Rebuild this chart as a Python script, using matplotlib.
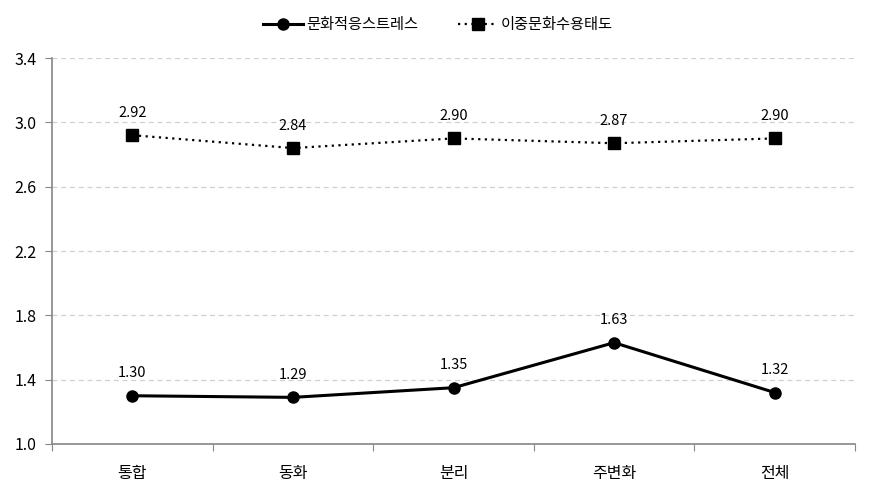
import numpy as np
from matplotlib import pyplot as plt

plt.rcParams['font.family'] = ['Noto Sans CJK KR', 'DejaVu Sans']

categories = ['통합', '동화', '분리', '주변화', '전체']
stress = [1.30, 1.29, 1.35, 1.63, 1.32]
attitude = [2.92, 2.84, 2.90, 2.87, 2.90]
series_names = ['문화적응스트레스', '이중문화수용태도']

fig = plt.figure(figsize=(8.71, 4.93), dpi=100)
ax = fig.add_axes([52 / 871, 1 - 444 / 493, 803 / 871, 386 / 493])

x = np.arange(len(categories))
ax.plot(x, stress, color='black', lw=2.2, marker='o', ms=8, label=series_names[0])
ax.plot(x, attitude, color='black', lw=1.6, ls=(0, (1, 2)), marker='s', ms=8,
        label=series_names[1])

# value labels above each point
for xi, v in zip(x, stress):
    ax.annotate(f'{v:.2f}', (xi, v), xytext=(0, 11), textcoords='offset points',
                ha='center', va='bottom', fontsize=10.5)
for xi, v in zip(x, attitude):
    ax.annotate(f'{v:.2f}', (xi, v), xytext=(0, 11), textcoords='offset points',
                ha='center', va='bottom', fontsize=10.5)

ax.set_xlim(-0.5, len(categories) - 0.5)
ax.set_ylim(1.0, 3.4)
ax.set_yticks(np.arange(1.0, 3.41, 0.4))
ax.set_yticklabels([f'{t:.1f}' for t in np.arange(1.0, 3.41, 0.4)], fontsize=11.5)

# category labels between boundary ticks
ax.set_xticks(np.arange(-0.5, len(categories), 1.0))
ax.set_xticklabels([])
ax.set_xticks(x, minor=True)
ax.set_xticklabels(categories, minor=True, fontsize=11.5)
ax.tick_params(axis='x', which='minor', length=0, pad=15)
ax.tick_params(axis='x', which='major', length=5, color='#868686')
ax.tick_params(axis='y', length=5, color='#868686', pad=6)

ax.grid(axis='y', color='#d0d0d0', ls=(0, (4, 3)), lw=0.9)
ax.set_axisbelow(True)
for s in ['top', 'right']:
    ax.spines[s].set_visible(False)
for s in ['left', 'bottom']:
    ax.spines[s].set_color('#868686')
    ax.spines[s].set_linewidth(1.2)

fig.legend(loc='upper center', bbox_to_anchor=(0.503, 0.995), ncol=2, frameon=False,
           fontsize=11, handlelength=2.6, columnspacing=2.6, handletextpad=0.2)

fig.savefig('out.png', dpi=100)
